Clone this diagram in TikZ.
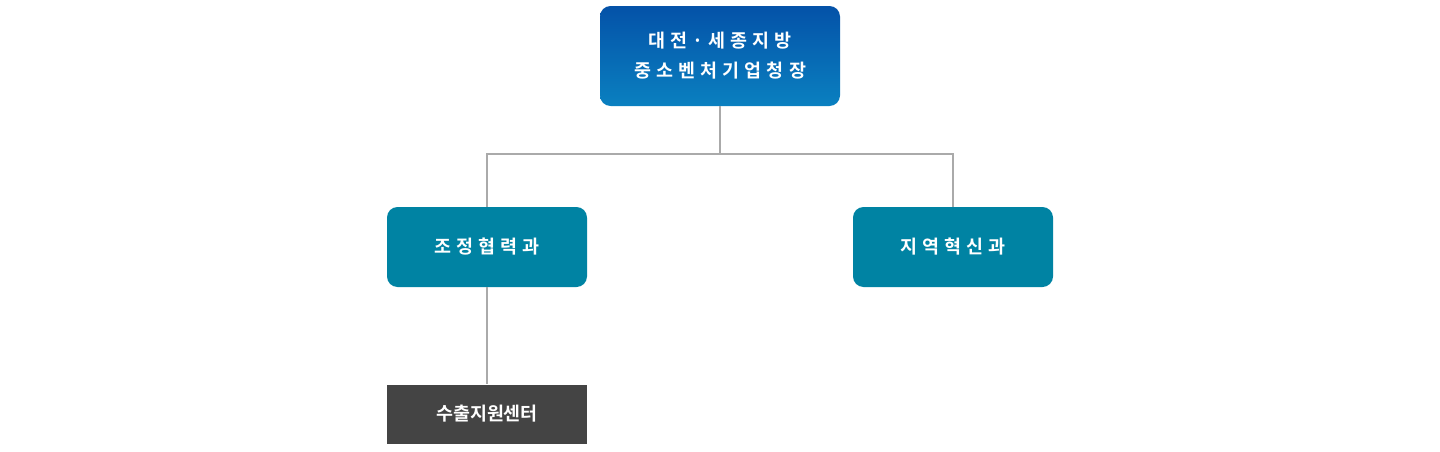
\documentclass[tikz,border=0pt]{standalone}
\usepackage{fontspec}
\newfontfamily\kr[LetterSpace=28]{Noto Sans CJK KR Bold}
\newfontfamily\krplain{Noto Sans CJK KR Bold}
\usetikzlibrary{positioning}
\definecolor{teambox}{HTML}{0083A3}
\definecolor{topdark}{HTML}{0452A8}
\definecolor{toplight}{HTML}{0A80C0}
\definecolor{centerbox}{HTML}{444444}
\definecolor{linkgray}{HTML}{AAAAAA}
\tikzset{%
	every box/.style={
		rounded corners=6pt,
		text=white,
		font=\kr\fontsize{10.5pt}{17pt}\selectfont,
		align=center,
		inner sep=0pt
	},
	team box/.style={
		every box,
		fill=teambox,
		minimum width=200*0.02cm,
		minimum height=80*0.02cm
	},
	link/.style={
		draw=linkgray,
		line width=0.6pt
	},
}
\begin{document}
\begin{tikzpicture}[x=0.02cm, y=-0.02cm]

	\useasboundingbox (0,0) rectangle (1440,451);

	\node[every box, top color=topdark, bottom color=toplight, minimum width=240*0.02cm, minimum height=100*0.02cm] (head) at (720,56) {대전·세종지방\\중소벤처기업청장};

	\node[team box] (coord) at (487,247) {조정협력과};
	\node[team box] (innov) at (953,247) {지역혁신과};

	\node[fill=centerbox, text=white, font=\krplain\fontsize{10.5pt}{12pt}\selectfont, minimum width=200*0.02cm, minimum height=59*0.02cm, inner sep=0pt] (export) at (487,414) {수출지원센터};

	\coordinate (split) at (720,154);
	\draw[link] (head.south) -- (split);
	\draw[link] (coord.north) |- (split) -| (innov.north);
	\draw[link] (coord.south) -- (export.north);

\end{tikzpicture}
\end{document}
